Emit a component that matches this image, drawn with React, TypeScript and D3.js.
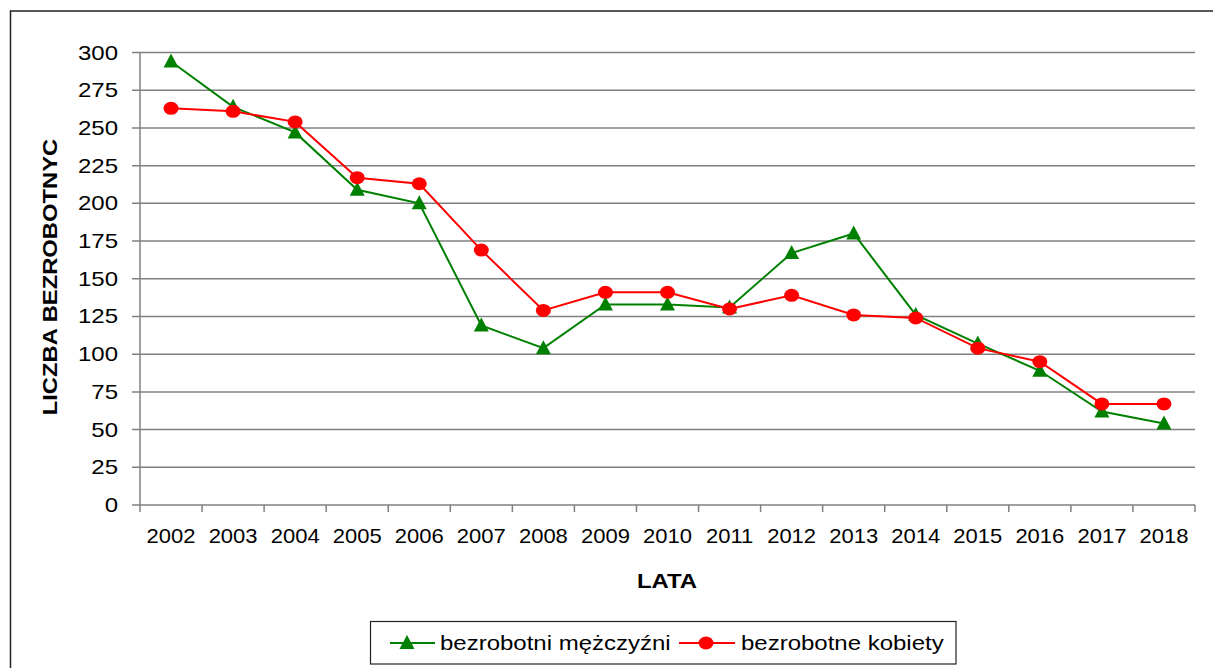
import * as d3 from "d3";

const years = ["2002", "2003", "2004", "2005", "2006", "2007", "2008", "2009", "2010", "2011", "2012", "2013", "2014", "2015", "2016", "2017", "2018"];
const men = [294, 264, 247, 209, 200, 119, 104, 133, 133, 131, 167, 180, 126, 107, 89, 62, 54];
const women = [263, 261, 254, 217, 213, 169, 129, 141, 141, 130, 139, 126, 124, 104, 95, 67, 67];
const yTicks = [0, 25, 50, 75, 100, 125, 150, 175, 200, 225, 250, 275, 300];

const W = 1213;
const H = 668;
const left = 140;
const right = 1195;
const top = 52.5;
const bottom = 505;
const font = "'Liberation Sans', Arial, sans-serif";

const App = () => {
  const x = d3.scaleBand().domain(years).range([left, right]);
  const y = d3.scaleLinear().domain([0, 300]).range([bottom, top]);
  const cx = (yr: string) => (x(yr) ?? 0) + x.bandwidth() / 2;

  const line = d3.line<number>()
    .x((_, i) => cx(years[i]))
    .y(d => y(d));

  const tri = (px: number, py: number) =>
    `M${px},${py - 8}L${px + 7.5},${py + 6}L${px - 7.5},${py + 6}Z`;

  // stretched text like the original export
  const sx = (tx: number, ty: number, s: number) => `translate(${tx},${ty}) scale(${s},1)`;

  return (
    <svg width={W} height={H} style={{ position: "absolute", left: 0, top: 0, background: "#fff" }}>
      <rect x={10.5} y={11} width={W + 20} height={H + 20} fill="#fff" stroke="#222" strokeWidth={1.5} />

      {/* grid */}
      {yTicks.map(t => (
        <g key={t}>
          <line x1={left - 8} x2={right} y1={y(t)} y2={y(t)} stroke="#808080" strokeWidth={1.5} />
          <text transform={sx(118, y(t) + 7, 1.2)} textAnchor="end" fontFamily={font} fontSize={20} fill="#000">{t}</text>
        </g>
      ))}
      <line x1={left} x2={left} y1={top} y2={bottom} stroke="#808080" strokeWidth={1.5} />

      {/* x ticks */}
      {[...years.map(yr => x(yr) ?? 0), right].map((px, i) => (
        <line key={i} x1={px} x2={px} y1={bottom} y2={bottom + 7} stroke="#808080" strokeWidth={1.5} />
      ))}
      {years.map(yr => (
        <text key={yr} transform={sx(cx(yr), 543, 1.1)} textAnchor="middle" fontFamily={font} fontSize={20} fill="#000">{yr}</text>
      ))}

      {/* axis titles */}
      <text transform={`${sx(667, 588, 1.14)}`} textAnchor="middle" fontFamily={font} fontSize={21} fontWeight="bold">LATA</text>
      <text transform={`translate(57,277) rotate(-90) scale(1.19,1)`} textAnchor="middle" fontFamily={font} fontSize={20} fontWeight="bold">LICZBA BEZROBOTNYC</text>

      {/* series */}
      <path d={line(men) ?? ""} fill="none" stroke="#008000" strokeWidth={2} />
      <path d={line(women) ?? ""} fill="none" stroke="#ff0000" strokeWidth={2} />
      {men.map((v, i) => (
        <path key={i} d={tri(cx(years[i]), y(v))} fill="#008000" />
      ))}
      {women.map((v, i) => (
        <ellipse key={i} cx={cx(years[i])} cy={y(v)} rx={7.5} ry={6.5} fill="#ff0000" />
      ))}

      {/* legend */}
      <rect x={370.5} y={621.5} width={585.5} height={42.5} fill="#fff" stroke="#222" strokeWidth={1.2} />
      <line x1={390} x2={435} y1={643} y2={643} stroke="#008000" strokeWidth={2} />
      <path d={tri(407, 643)} fill="#008000" />
      <text transform={sx(440, 650, 1.2)} fontFamily={font} fontSize={20}>bezrobotni mężczyźni</text>
      <line x1={679} x2={735} y1={643} y2={643} stroke="#ff0000" strokeWidth={2} />
      <ellipse cx={706} cy={643} rx={7.5} ry={6.5} fill="#ff0000" />
      <text transform={sx(741, 650, 1.2)} fontFamily={font} fontSize={20}>bezrobotne kobiety</text>
    </svg>
  );
};

export default App;
